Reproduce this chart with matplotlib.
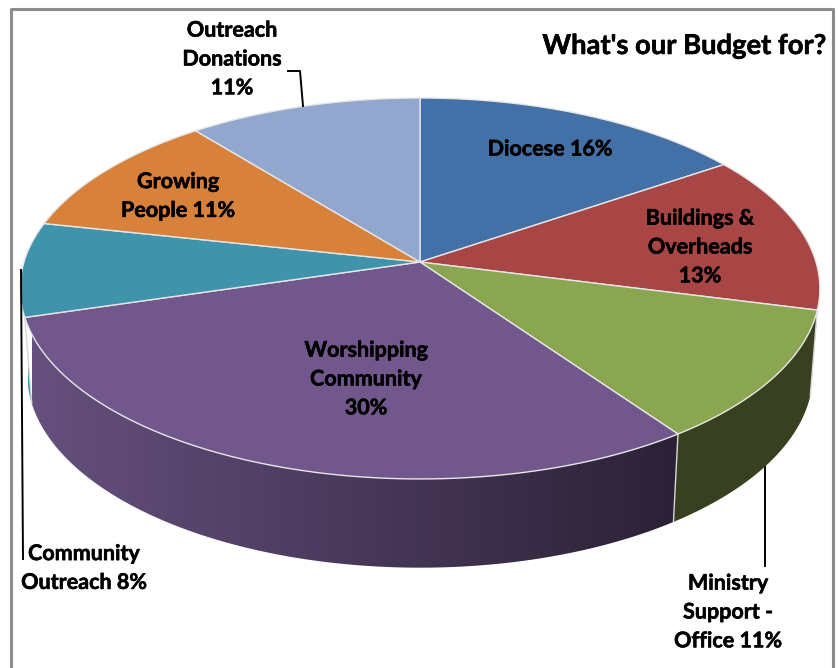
import numpy as np
import matplotlib
matplotlib.use("Agg")
import matplotlib.pyplot as plt
import matplotlib.patheffects as pe
from matplotlib.colors import LinearSegmentedColormap
from matplotlib.patches import Polygon

# slices, clockwise from 12 o'clock
names = ["Diocese", "Buildings & Overheads", "Ministry Support - Office", "Worshipping Community",
	"Community Outreach", "Growing People", "Outreach Donations"]
values = [15.5, 13.5, 11.2, 30.2, 8.0, 10.8, 10.8]
top_colors = ["#4470A8", "#A84545", "#8AA650", "#71578C", "#3F94AC", "#D8813B", "#92A7CE"]
side_left = ["#2A4468", "#6A2B2B", "#384020", "#66507E", "#3F94AC", "#8A5226", "#5B6A84"]
side_right = ["#2A4468", "#6A2B2B", "#384020", "#2B2136", "#3F94AC", "#8A5226", "#5B6A84"]

label_texts = ["Diocese 16%", "Buildings &\nOverheads\n13%", "Ministry\nSupport -\nOffice 11%",
	"Worshipping\nCommunity\n30%", "Community\nOutreach 8%", "Growing\nPeople 11%", "Outreach\nDonations\n11%"]

# everything below is in screen pixels, y going down
CX, CY = 420, 262


# perspective ellipse of the pie, angle in degrees clockwise from the top
def rim(angle, lower=False):
	t = np.radians(angle)
	x, y = np.sin(t), np.cos(t)
	persp = 1 + 0.139 * y
	if lower:
		return CX + 389 * x / persp, 347 - 190 * y / persp
	return CX + 396 * x / persp, CY - 186.8 * y / persp


def main():
	fig = plt.figure(figsize=(8.38, 6.68), dpi=100)
	ax = fig.add_axes([0, 0, 1, 1])
	ax.axis("off")

	# frame, runs off the bottom of the picture
	ax.plot([11, 11, 833, 833], [668, 9, 9, 668], color="#8C8C8C", lw=2.2, zorder=1)

	edges = np.concatenate([[0], np.cumsum(values)]) * 3.6

	# side walls, only the front part shows
	for i in range(len(values)):
		start = max(edges[i], 104)
		end = min(edges[i + 1], 259)
		if end <= start:
			continue
		angs = np.linspace(start, end, 100)
		tx, ty = rim(angs)
		bx, by = rim(angs, True)
		outline = Polygon(np.c_[np.r_[tx, bx[::-1]], np.r_[ty, by[::-1]]], transform=ax.transData,
			facecolor="none", edgecolor="none")
		ax.add_patch(outline)
		cmap = LinearSegmentedColormap.from_list("wall", [side_left[i], side_right[i]])
		im = ax.imshow(np.linspace(0, 1, 256).reshape(1, -1), cmap=cmap, aspect="auto",
			extent=[bx.min(), bx.max() + 6, by.max(), min(ty.min(), by.min())], zorder=2)
		im.set_clip_path(outline)
		# seam at slice start
		if 104 <= edges[i] <= 259:
			ax.plot([tx[0], bx[0]], [ty[0], by[0]], color="#D8D8D8", lw=1.0, zorder=3)

	ax.set_xlim(0, 838)
	ax.set_ylim(668, 0)

	# top faces
	for i in range(len(values)):
		angs = np.linspace(edges[i], edges[i + 1], 120)
		x, y = rim(angs)
		ax.fill(np.r_[CX, x], np.r_[CY, y], facecolor=top_colors[i], edgecolor="#E6E6E6", lw=1.0, zorder=4)

	# leader lines
	ax.plot([288, 300, 303], [71, 71, 106], color="black", lw=1.4, zorder=5)
	ax.plot([21, 23], [270, 559], color="black", lw=1.4, zorder=5)
	ax.plot([765, 765], [465, 566], color="black", lw=1.4, zorder=1.5)

	stroke = [pe.withStroke(linewidth=0.4, foreground="black")]
	font = dict(family="Lato", weight="bold", color="black", fontsize=15.5, linespacing=1.46, zorder=6)
	spots = [(550, 149), (700, 247), (728, 612), (366, 379), (84, 568), (178, 196), (232, 59)]
	for text, (px, py) in zip(label_texts, spots):
		ax.text(px, py, text, ha="center", va="center", path_effects=stroke, **font)
	ax.text(684, 46, "What's our Budget for?", ha="center", va="center", family="Lato", weight="bold",
		fontsize=19.7, color="black", zorder=6, path_effects=stroke)

	fig.savefig("out.png", dpi=100, facecolor="white")


main()
